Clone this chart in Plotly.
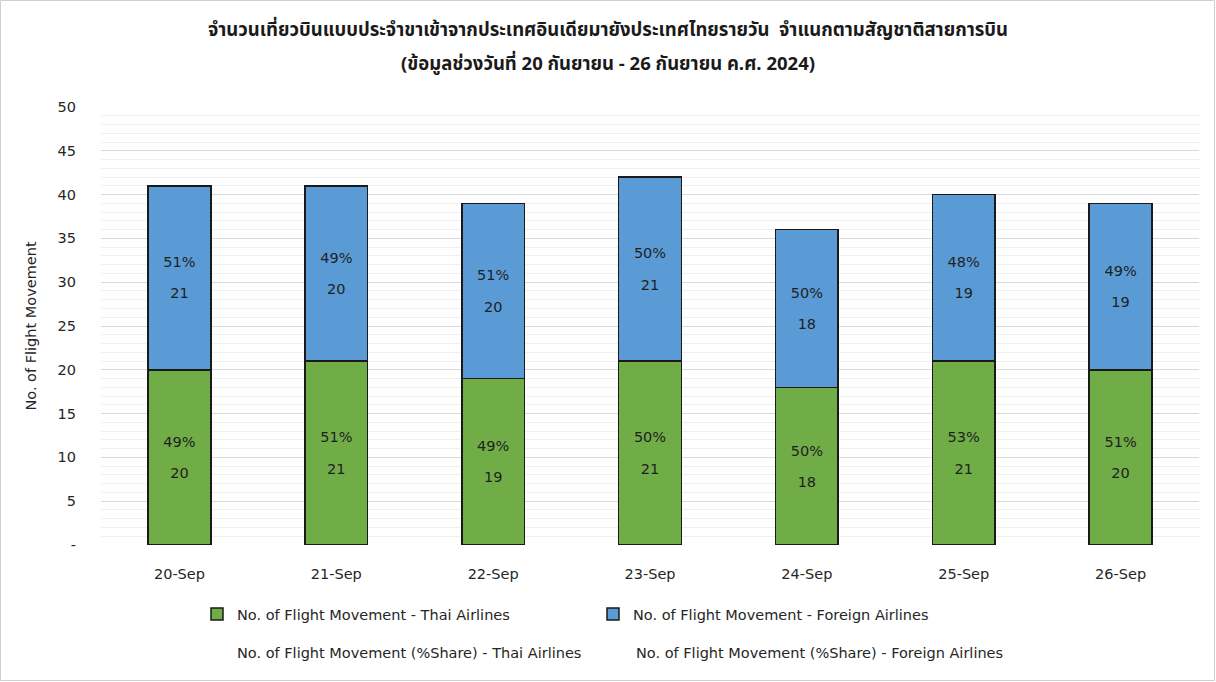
import plotly.graph_objects as go

dates = ["20-Sep", "21-Sep", "22-Sep", "23-Sep", "24-Sep", "25-Sep", "26-Sep"]
thai = [20, 21, 19, 21, 18, 21, 20]
foreign = [21, 20, 20, 21, 18, 19, 19]
thai_pct = [49, 51, 49, 50, 50, 53, 51]
foreign_pct = [51, 49, 51, 50, 50, 48, 49]
ytick_vals = [0, 5, 10, 15, 20, 25, 30, 35, 40, 45, 50]
ytick_text = ["-", "5", "10", "15", "20", "25", "30", "35", "40", "45", "50"]
title_line1 = "จำนวนเที่ยวบินแบบประจำขาเข้าจากประเทศอินเดียมายังประเทศไทยรายวัน  จำแนกตามสัญชาติสายการบิน"
title_line2 = "(ข้อมูลช่วงวันที่ 20 กันยายน - 26 กันยายน ค.ศ. 2024)"

FONT = "'DejaVu Sans', Verdana, sans-serif"
TFONT = "'Noto Sans Thai', Tahoma, sans-serif"
W, H = 1216, 682
L, R, T, B = 101, 17, 107, 137
pw, ph = W - L - R, H - T - B

tmpl = ("<span style='font-size:14.5px'>%{customdata}%</span><br><br>"
        "<span style='font-size:14.5px'>%{y}</span>")

fig = go.Figure()
fig.add_trace(go.Bar(
    x=dates, y=thai, customdata=thai_pct, name="No. of Flight Movement - Thai Airlines",
    marker=dict(color="#70AD47", line=dict(color="#1a1a1a", width=1.5)),
    texttemplate=tmpl, textposition="inside", insidetextanchor="middle",
    textangle=0, constraintext="none",
    textfont=dict(family=FONT, size=12, color="#1f1f1f"), legend="legend",
))
fig.add_trace(go.Bar(
    x=dates, y=foreign, customdata=foreign_pct, name="No. of Flight Movement - Foreign Airlines",
    marker=dict(color="#5B9BD5", line=dict(color="#1a1a1a", width=1.5)),
    texttemplate=tmpl, textposition="inside", insidetextanchor="middle",
    textangle=0, constraintext="none",
    textfont=dict(family=FONT, size=12, color="#1f1f1f"), legend="legend",
))
fig.add_trace(go.Bar(
    x=dates, y=[0] * len(dates), name="No. of Flight Movement (%Share) - Thai Airlines",
    marker=dict(color="rgba(0,0,0,0)", line=dict(width=0)), legend="legend2",
    hoverinfo="skip",
))
fig.add_trace(go.Bar(
    x=dates, y=[0] * len(dates), name="No. of Flight Movement (%Share) - Foreign Airlines",
    marker=dict(color="rgba(0,0,0,0)", line=dict(width=0)), legend="legend3",
    hoverinfo="skip",
))

legend_common = dict(
    orientation="h", xref="paper", yref="paper", xanchor="left", yanchor="middle",
    font=dict(family=FONT, size=14.5, color="#262626"),
    bgcolor="rgba(0,0,0,0)", traceorder="normal",
)

fig.update_layout(
    width=W, height=H, barmode="stack", bargap=0.6,
    margin=dict(l=L, r=R, t=T, b=B),
    paper_bgcolor="white", plot_bgcolor="white",
    font=dict(family=FONT, size=14.5, color="#262626"),
    title=dict(
        text=title_line1,
        x=0.5, xanchor="center", xref="container", y=1 - 30 / H, yanchor="middle",
        font=dict(family=TFONT, size=18.5, color="#1a1a1a", weight="bold"),
    ),
    annotations=[dict(
        text=title_line2, xref="paper", yref="paper",
        x=(608 - L) / pw, y=1 + (T - 64) / ph, xanchor="center", yanchor="middle",
        showarrow=False,
        font=dict(family=TFONT, size=18.5, color="#1a1a1a", weight="bold"),
    )],
    xaxis=dict(
        showgrid=False, showline=False, ticks="", ticklabelstandoff=18,
        tickfont=dict(family=FONT, size=14.5, color="#262626"),
    ),
    yaxis=dict(
        range=[0, 50], tickvals=ytick_vals, ticktext=ytick_text,
        showgrid=True, gridcolor="#d9d9d9", gridwidth=1.3,
        minor=dict(dtick=1, showgrid=True, gridcolor="#efefef", gridwidth=1),
        zeroline=False, showline=False, ticks="", ticklabelstandoff=24,
        tickfont=dict(family=FONT, size=14.5, color="#262626"),
        title=dict(text="No. of Flight Movement", standoff=17,
                   font=dict(family=FONT, size=14.5, color="#262626")),
    ),
    legend=dict(x=(197 - L) / pw, y=-(614 - (T + ph)) / ph, entrywidth=351,
                **legend_common),
    legend2=dict(x=(197 - L) / pw, y=-(652 - (T + ph)) / ph, **legend_common),
    legend3=dict(x=(596 - L) / pw, y=-(652 - (T + ph)) / ph, **legend_common),
    shapes=[dict(type="rect", xref="paper", yref="paper",
                 x0=-(L - 0.5) / pw, x1=1 + (R - 1.5) / pw,
                 y0=-(B - 1.5) / ph, y1=1 + (T - 0.5) / ph,
                 line=dict(color="#d0d0d0", width=1), layer="below")],
)

fig.write_html("out.html")
